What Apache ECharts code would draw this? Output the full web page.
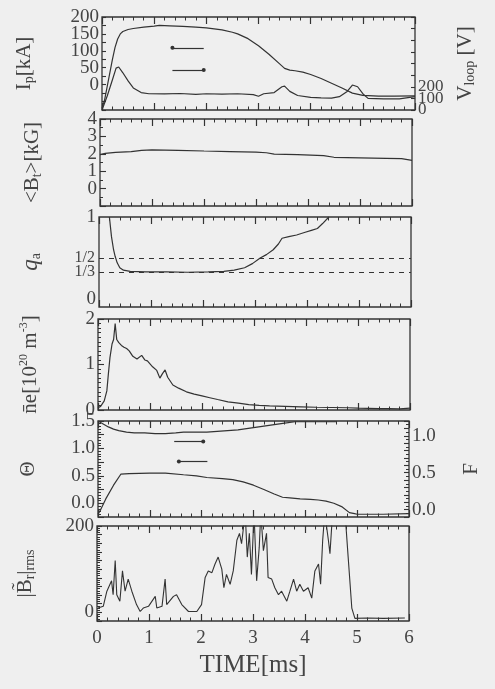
<!DOCTYPE html>
<html>
<head>
<meta charset="utf-8">
<script src="https://cdn.jsdelivr.net/npm/echarts@6.0.0/dist/echarts.min.js"></script>
<style>
  html, body { margin: 0; padding: 0; background: #efefef; }
  #chart { width: 495px; height: 689px; }
</style>
</head>
<body>
<div id="chart"></div>
<script>
// time ticks shared by every panel
const timeTicks = ["0", "1", "2", "3", "4", "5", "6"];

// Ip [kA]
const ipTime = [0, 0.05, 0.1, 0.15, 0.2, 0.25, 0.3, 0.35, 0.4, 0.5, 0.6, 0.8, 1.0, 1.1, 1.3, 1.55, 1.8, 2.0, 2.3, 2.5, 2.6, 2.8, 3.0, 3.2, 3.4, 3.5, 3.6, 3.7, 3.85, 4.0, 4.2, 4.4, 4.6, 4.8, 5.0, 5.3, 5.6, 6.0];
const ipValues = [-70, -45, -5, 35, 75, 110, 135, 150, 157, 163, 166, 170, 173, 175, 174, 172, 170, 168, 162, 155, 150, 136, 115, 90, 62, 48, 43, 41, 37, 30, 18, 4, -10, -25, -32, -34, -34, -33];

// Vloop [V]
const vloopTime = [0, 0.1, 0.2, 0.27, 0.32, 0.4, 0.5, 0.6, 0.75, 0.9, 1.2, 1.5, 1.8, 2.0, 2.3, 2.6, 2.9, 3.0, 3.1, 3.3, 3.45, 3.5, 3.6, 3.75, 4.0, 4.2, 4.4, 4.55, 4.7, 4.8, 4.9, 5.0, 5.1, 5.4, 5.7, 6.0];
const vloopValues = [0, 120, 260, 360, 370, 320, 250, 190, 150, 140, 138, 142, 135, 140, 136, 140, 132, 118, 140, 150, 200, 205, 160, 125, 108, 104, 102, 115, 160, 215, 200, 140, 100, 95, 95, 115];

// <Bt> [kG]
const btTime = [0, 0.1, 0.3, 0.6, 0.8, 1.0, 1.5, 2.0, 2.5, 3.0, 3.2, 3.35, 3.8, 4.3, 4.5, 5.0, 5.5, 5.8, 6.0];
const btValues = [1.95, 2.02, 2.08, 2.12, 2.2, 2.22, 2.2, 2.16, 2.13, 2.1, 2.06, 1.98, 1.95, 1.9, 1.8, 1.77, 1.74, 1.72, 1.62];

// q_a
const qaTime = [0.2, 0.24, 0.28, 0.31, 0.35, 0.4, 0.47, 0.6, 0.9, 1.3, 1.7, 2.1, 2.4, 2.6, 2.8, 2.95, 3.1, 3.22, 3.35, 3.45, 3.52, 3.65, 3.8, 3.95, 4.1, 4.2, 4.3, 4.42];
const qaValues = [1.0, 0.76, 0.6, 0.52, 0.44, 0.38, 0.35, 0.335, 0.33, 0.33, 0.325, 0.33, 0.335, 0.35, 0.38, 0.43, 0.5, 0.54, 0.6, 0.67, 0.74, 0.76, 0.78, 0.81, 0.84, 0.86, 0.92, 1.0];
const qaLevels = [1 / 2, 1 / 3];
const qaLevelLabels = ["1/2", "1/3"];

// line averaged density [10^20 m^-3]
const neTime = [0, 0.05, 0.12, 0.17, 0.2, 0.23, 0.27, 0.3, 0.33, 0.36, 0.4, 0.45, 0.5, 0.55, 0.6, 0.67, 0.75, 0.84, 0.9, 0.95, 1.05, 1.13, 1.19, 1.24, 1.29, 1.34, 1.44, 1.55, 1.7, 1.85, 2.0, 2.15, 2.3, 2.5, 2.7, 2.9, 3.1, 3.3, 3.6, 3.9, 4.2, 4.5, 4.8, 5.0, 5.2, 5.4, 5.6, 5.8, 6.0];
const neValues = [0.05, 0.08, 0.2, 0.42, 0.8, 1.15, 1.45, 1.55, 1.9, 1.55, 1.48, 1.42, 1.38, 1.35, 1.3, 1.18, 1.12, 1.2, 1.1, 1.08, 0.95, 0.87, 0.7, 0.8, 0.88, 0.72, 0.55, 0.48, 0.4, 0.35, 0.31, 0.27, 0.23, 0.18, 0.15, 0.12, 0.1, 0.09, 0.08, 0.07, 0.06, 0.055, 0.05, 0.04, 0.035, 0.03, 0.03, 0.025, 0.04];

// Theta
const thetaTime = [0, 0.05, 0.15, 0.3, 0.44, 0.6, 1.0, 1.3, 1.65, 1.9, 2.1, 2.4, 2.6, 2.8, 3.0, 3.2, 3.4, 3.56, 3.7, 3.9, 4.1, 4.25, 4.4, 4.55, 4.7, 4.85, 4.95, 5.0, 5.5, 6.0];
const thetaValues = [-0.2, -0.12, 0.08, 0.33, 0.53, 0.54, 0.55, 0.55, 0.52, 0.5, 0.47, 0.45, 0.43, 0.39, 0.33, 0.25, 0.17, 0.11, 0.1, 0.08, 0.07, 0.06, 0.04, 0.0, -0.06, -0.17, -0.19, -0.2, -0.2, -0.19];

// F
const fTime = [0, 0.1, 0.2, 0.3, 0.4, 0.55, 0.7, 0.9, 1.1, 1.3, 1.5, 1.65, 1.9, 2.1, 2.3, 2.5, 2.7, 2.9, 3.1, 3.3, 3.5, 3.6, 3.8, 4.2, 4.6];
const fValues = [1.2, 1.16, 1.12, 1.09, 1.07, 1.05, 1.04, 1.04, 1.03, 1.03, 1.04, 1.05, 1.05, 1.05, 1.06, 1.07, 1.08, 1.1, 1.12, 1.14, 1.16, 1.17, 1.19, 1.19, 1.19];

// |Br| rms
const brTime = [0.02, 0.12, 0.19, 0.22, 0.28, 0.31, 0.35, 0.38, 0.44, 0.49, 0.54, 0.6, 0.67, 0.76, 0.83, 0.89, 0.99, 1.12, 1.15, 1.25, 1.31, 1.34, 1.47, 1.53, 1.63, 1.76, 1.92, 2.01, 2.08, 2.14, 2.21, 2.27, 2.33, 2.4, 2.44, 2.49, 2.56, 2.62, 2.69, 2.74, 2.78, 2.85, 2.89, 2.93, 2.97, 3.02, 3.07, 3.12, 3.15, 3.2, 3.26, 3.29, 3.36, 3.42, 3.49, 3.55, 3.65, 3.71, 3.78, 3.84, 3.9, 3.97, 4.06, 4.13, 4.19, 4.26, 4.3, 4.34, 4.38, 4.45, 4.48, 4.53, 4.65, 4.77, 4.83, 4.9, 4.96, 5.2, 5.5, 5.92];
const brValues = [10, 14, 49, 57, 73, 41, 120, 41, 26, 96, 49, 77, 49, 18, 2, 10, 14, 37, 10, 14, 77, 18, 37, 41, 18, 2, 2, 18, 81, 96, 92, 112, 128, 100, 57, 88, 65, 96, 167, 183, 159, 230, 128, 183, 88, 230, 73, 151, 230, 143, 183, 81, 77, 57, 41, 49, 26, 49, 77, 49, 65, 49, 57, 33, 96, 112, 65, 167, 230, 167, 136, 230, 300, 230, 128, 10, -14, -13, -14, -13];

// the little direction markers (time, value)
const ipMarker = [[1.35, 109], [1.95, 109]];
const vloopMarker = [[1.35, 43], [1.95, 43]];
const fMarker = [[1.47, 1.125], [2.03, 1.125]];
const thetaMarker = [[1.56, 0.76], [2.11, 0.76]];

const ink = "#333";
const textInk = "#444";
const serif = "'Liberation Serif', 'DejaVu Serif', serif";
const pairs = (ts, vs) => ts.map((t, i) => [t, vs[i]]);

const rich = {
  n: { fontFamily: serif, fontSize: 21, color: textInk, lineHeight: 24 },
  i: { fontFamily: serif, fontSize: 23, color: textInk, fontStyle: "italic", lineHeight: 24 },
  s: { fontFamily: serif, fontSize: 14, color: textInk, verticalAlign: "bottom", lineHeight: 16 },
  u: { fontFamily: serif, fontSize: 12, color: textInk, verticalAlign: "top", lineHeight: 16 },
};

const panels = [
  { left: 102, top: 17, width: 313, height: 93 },
  { left: 100, top: 119, width: 312, height: 87 },
  { left: 99, top: 217, width: 312, height: 90 },
  { left: 98, top: 319, width: 312, height: 91 },
  { left: 98, top: 421, width: 311, height: 96 },
  { left: 97, top: 526, width: 312, height: 95 },
];

const grid = panels.map((p) => ({
  ...p,
  show: true,
  borderColor: ink,
  borderWidth: 1.3,
  backgroundColor: "transparent",
}));
// two invisible twins (over panels 1 and 2) carry the end labels
// that ECharts would otherwise drop as overlapping
grid.push({ ...panels[0], show: false }, { ...panels[1], show: false });

const xAxis = [];
panels.forEach((p, i) => {
  ["bottom", "top"].forEach((pos) => {
    const labelled = pos === "bottom" && i === panels.length - 1;
    xAxis.push({
      type: "value",
      gridIndex: i,
      position: pos,
      min: 0,
      max: 6,
      interval: 1,
      axisLine: { show: false, onZero: false },
      axisTick: { show: true, inside: true, length: 7, lineStyle: { color: ink, width: 1.2 } },
      minorTick: { show: true, splitNumber: 5, length: 3.5, lineStyle: { color: ink, width: 1 } },
      splitLine: { show: false },
      axisLabel: {
        show: labelled,
        margin: 8,
        fontFamily: serif,
        fontSize: 19,
        color: textInk,
        formatter: (v) => timeTicks[Math.round(v)],
      },
      name: labelled ? "TIME[ms]" : "",
      nameLocation: "middle",
      nameGap: 32,
      nameTextStyle: { fontFamily: serif, fontSize: 25, color: textInk },
    });
  });
});
xAxis.push(
  { type: "value", gridIndex: 6, min: 0, max: 6, show: false },
  { type: "value", gridIndex: 7, min: 0, max: 6, show: false }
);

function yAx(gridIndex, o) {
  return {
    type: "value",
    gridIndex,
    position: o.pos || "left",
    min: o.min,
    max: o.max,
    interval: o.interval,
    axisLine: { show: false, onZero: false },
    axisTick: { show: o.ticks !== false, inside: true, length: o.tickLen || 6, lineStyle: { color: ink, width: 1.1 } },
    minorTick: { show: !!o.minor, splitNumber: o.minor || 2, length: 3, lineStyle: { color: ink, width: 1 } },
    splitLine: { show: false },
    axisLabel: {
      margin: 3,
      showMinLabel: o.showMin,
      showMaxLabel: o.showMax,
      fontFamily: serif,
      fontSize: o.fontSize || 19,
      color: textInk,
      formatter: o.fmt,
    },
    name: o.name || "",
    nameLocation: "middle",
    nameRotate: 90,
    nameGap: o.gap,
    nameTextStyle: { rich },
  };
}

const near = (v, step) => Math.abs(v / step - Math.round(v / step)) < 1e-6;

const yAxis = [
  yAx(0, { min: -75, max: 200, interval: 25, tickLen: 4, name: "{n|I}{s|p}{n|[kA]}", gap: 66,
    fmt: (v) => (v >= 0 && near(v, 50) ? String(v) : "") }),
  yAx(0, { pos: "right", min: 0, max: 800, interval: 100, tickLen: 4, fontSize: 17, name: "{n|V}{s|loop}{n| [V]}", gap: 38,
    fmt: (v) => (v > 0 && v <= 200 ? String(v) : "") }),
  yAx(1, { min: -1, max: 4, interval: 1, minor: 2, name: "{n|<B}{s|t}{n|>[kG]}", gap: 56,
    fmt: (v) => (v >= 0 && v < 4 ? String(v) : "") }),
  yAx(2, { min: -0.1, max: 1, interval: 0.1, ticks: false, name: "{i|q}{s|a}", gap: 56,
    fmt: (v) => (near(v, 1) && v >= -1e-6 ? String(Math.round(v)) : "") }),
  yAx(3, { min: 0, max: 2, interval: 1, minor: 10, name: "{n|n\u0304e[10}{u|20}{n| m}{u|-3}{n|]}", gap: 56,
    fmt: (v) => String(v) }),
  yAx(4, { min: -0.25, max: 1.5, interval: 0.25, minor: 5, tickLen: 6, name: "{n|\u0398}", gap: 58,
    fmt: (v) => (near(v, 0.5) && v > -1e-6 ? Math.abs(v).toFixed(1) : "") }),
  yAx(4, { pos: "right", min: -0.1, max: 1.2, interval: 0.1, minor: 2, tickLen: 5, name: "{n|F}", gap: 50,
    fmt: (v) => (near(v, 0.5) && v > -1e-6 && v < 1.05 ? Math.abs(v).toFixed(1) : "") }),
  yAx(5, { min: -20, max: 200, interval: 20, minor: 4, tickLen: 5, name: "{n||B\u0303}{s|r}{n||}{s|rms}", gap: 60,
    fmt: (v) => (v === 0 || v === 200 ? String(v) : "") }),
  // twins: only the Vloop "0" and the <Bt> "4"
  yAx(6, { pos: "right", min: 0, max: 800, interval: 100, ticks: false, fontSize: 17, showMin: true,
    fmt: (v) => (v === 0 ? "0" : "") }),
  yAx(7, { min: -1, max: 4, interval: 1, ticks: false, showMax: true,
    fmt: (v) => (v === 4 ? "4" : "") }),
];

function trace(xi, yi, data, extra) {
  return Object.assign({
    type: "line",
    xAxisIndex: xi,
    yAxisIndex: yi,
    data,
    symbol: "none",
    clip: true,
    silent: true,
    lineStyle: { color: ink, width: 1.2 },
  }, extra || {});
}

function marker(pts, dotAtStart) {
  return [
    { coord: pts[0], symbol: dotAtStart ? "circle" : "none", symbolSize: 4 },
    { coord: pts[1], symbol: dotAtStart ? "none" : "circle", symbolSize: 4 },
  ];
}

const markerStyle = (lines) => ({
  silent: true,
  animation: false,
  symbol: ["none", "none"],
  label: { show: false },
  lineStyle: { color: ink, width: 1.2, type: "solid" },
  data: lines,
});

const option = {
  backgroundColor: "#efefef",
  animation: false,
  grid,
  xAxis,
  yAxis,
  series: [
    trace(0, 0, pairs(ipTime, ipValues), {
      markLine: markerStyle([marker(ipMarker, true), marker(vloopMarker, false)]),
    }),
    trace(0, 1, pairs(vloopTime, vloopValues)),
    trace(2, 2, pairs(btTime, btValues)),
    trace(4, 3, pairs(qaTime, qaValues), {
      markLine: {
        silent: true,
        animation: false,
        symbol: ["none", "none"],
        lineStyle: { color: ink, width: 1, type: [5, 5] },
        label: {
          show: true,
          position: "start",
          distance: 4,
          fontFamily: serif,
          fontSize: 16,
          color: textInk,
          formatter: (p) => qaLevelLabels[p.dataIndex],
        },
        data: qaLevels.map((q) => ({ yAxis: q })),
      },
    }),
    trace(6, 4, pairs(neTime, neValues)),
    trace(8, 5, pairs(thetaTime, thetaValues), {
      markLine: markerStyle([marker(fMarker, false), marker(thetaMarker, true)]),
    }),
    trace(8, 6, pairs(fTime, fValues)),
    trace(10, 7, pairs(brTime, brValues), { lineStyle: { color: ink, width: 1.1 } }),
  ],
};

const chart = echarts.init(document.getElementById("chart"));
chart.setOption(option);
</script>
</body>
</html>
